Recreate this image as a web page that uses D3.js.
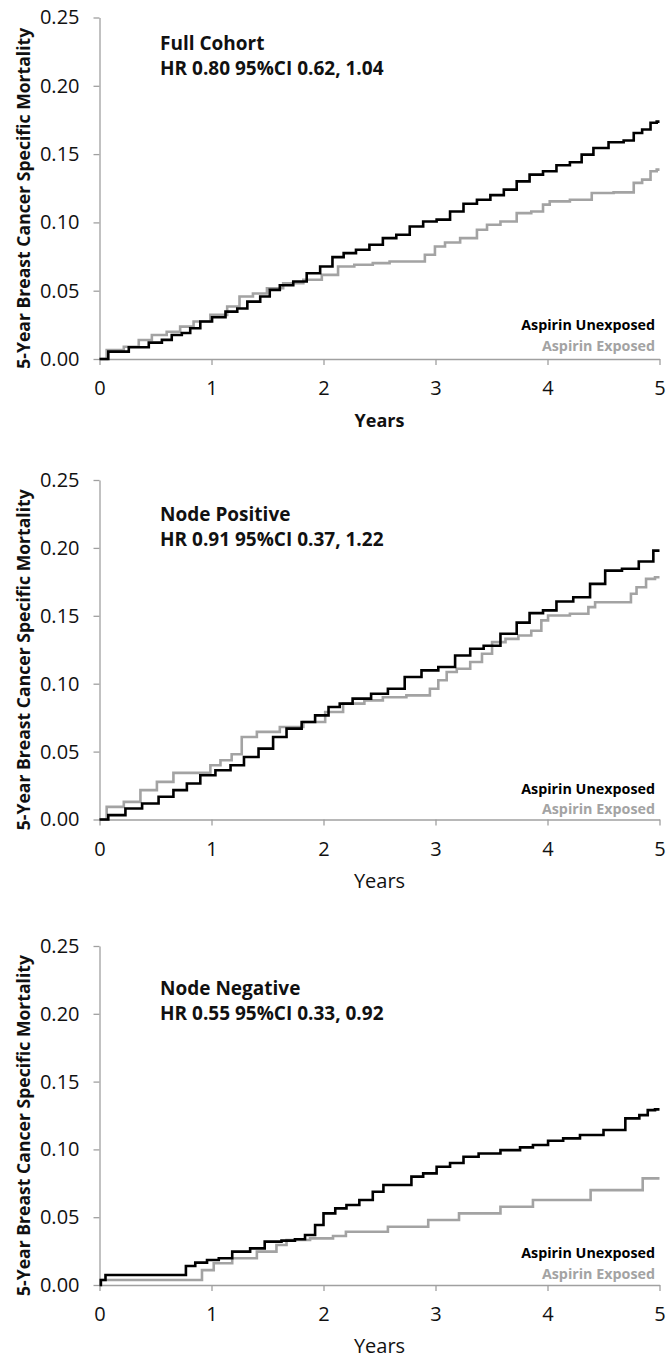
<!DOCTYPE html>
<html>
<head>
<meta charset="utf-8">
<script src="https://cdn.jsdelivr.net/npm/d3@7"></script>
<style>
  html, body { margin: 0; padding: 0; background: #fff; }
  svg { display: block; font-family: "Open Sans", "Noto Sans", sans-serif; }
</style>
</head>
<body>
<div id="chart"></div>
<script>
// ---------------- data ----------------
var xTicks = [0, 1, 2, 3, 4, 5];
var yTicks = [0, 0.05, 0.10, 0.15, 0.20, 0.25];
var seriesNames = ['Aspirin Unexposed', 'Aspirin Exposed'];
var panelTitles = ['Full Cohort', 'Node Positive', 'Node Negative'];
var panelHR = ['HR 0.80 95%CI 0.62, 1.04', 'HR 0.91 95%CI 0.37, 1.22', 'HR 0.55 95%CI 0.33, 0.92'];

// [years, cumulative mortality]
var fullUnexposed = [[0,0],[0.157,0.0054],[0.366,0.0086],[0.514,0.012],[0.60,0.014],[0.69,0.0176],[0.78,0.019],
  [0.84,0.0225],[0.96,0.0274],[1.05,0.0306],[1.20,0.0347],[1.26,0.037],[1.38,0.042],[1.49,0.0457],[1.55,0.0506],
  [1.67,0.054],[1.79,0.0567],[1.91,0.0628],[2.03,0.0677],[2.13,0.0746],[2.23,0.0775],[2.35,0.080],[2.47,0.0836],
  [2.59,0.0885],[2.71,0.091],[2.83,0.097],[2.95,0.1007],[3.07,0.102],[3.19,0.108],[3.31,0.1137],[3.43,0.1166],
  [3.55,0.120],[3.67,0.124],[3.78,0.130],[3.90,0.135],[4.02,0.1374],[4.14,0.1418],[4.26,0.144],[4.35,0.1496],
  [4.47,0.1545],[4.62,0.1587],[4.74,0.160],[4.80,0.1655],[4.89,0.168],[4.95,0.1729],[5.0,0.1738]];
var fullExposed = [[0,0],[0.128,0.0066],[0.306,0.009],[0.395,0.0139],[0.54,0.0176],[0.66,0.020],[0.78,0.0237],
  [0.90,0.0274],[1.08,0.0323],[1.20,0.0384],[1.30,0.0457],[1.44,0.048],[1.55,0.0518],[1.73,0.0555],[1.91,0.058],
  [2.06,0.0616],[2.20,0.0677],[2.35,0.069],[2.53,0.0702],[2.65,0.0714],[2.86,0.0714],[2.95,0.0763],[3.04,0.0824],
  [3.13,0.0853],[3.31,0.0885],[3.43,0.0946],[3.49,0.0983],[3.67,0.1007],[3.78,0.1068],[3.93,0.108],[3.99,0.113],
  [4.05,0.1154],[4.35,0.1166],[4.44,0.1215],[4.74,0.122],[4.80,0.1289],[4.89,0.1313],[4.95,0.1374],[5.0,0.1386]];

var posUnexposed = [[0,0],[0.157,0.0032],[0.306,0.0081],[0.455,0.0118],[0.60,0.0167],[0.72,0.0216],[0.84,0.0265],
  [0.96,0.0326],[1.11,0.0363],[1.23,0.040],[1.35,0.046],[1.49,0.0522],[1.61,0.0608],[1.73,0.0669],[1.88,0.0718],
  [1.97,0.0767],[2.12,0.0828],[2.17,0.0853],[2.35,0.089],[2.50,0.0926],[2.65,0.0963],[2.80,0.1049],[2.95,0.1098],
  [3.10,0.1123],[3.25,0.1208],[3.37,0.1257],[3.49,0.128],[3.67,0.1368],[3.78,0.145],[3.90,0.152],[4.02,0.154],
  [4.14,0.1605],[4.32,0.1637],[4.44,0.1735],[4.59,0.1833],[4.74,0.1846],[4.89,0.190],[5.0,0.198]];
var posExposed = [[0,0],[0.128,0.0093],[0.306,0.013],[0.425,0.0216],[0.60,0.0277],[0.72,0.0343],[0.96,0.0343],
  [1.02,0.040],[1.14,0.0436],[1.22,0.048],[1.32,0.0608],[1.49,0.0645],[1.73,0.0681],[1.91,0.0718],[2.12,0.0792],[2.23,0.0853],
  [2.50,0.0877],[2.56,0.090],[2.92,0.0914],[2.98,0.0963],[3.07,0.1025],[3.13,0.1086],[3.25,0.111],[3.37,0.116],
  [3.46,0.122],[3.55,0.1306],[3.70,0.133],[3.78,0.1355],[3.93,0.139],[3.96,0.1466],[4.05,0.1502],[4.35,0.1515],
  [4.38,0.1564],[4.47,0.160],[4.74,0.160],[4.75,0.1662],[4.84,0.171],[4.92,0.1772],[5.0,0.1784]];

var negUnexposed = [[0,0],[0.024,0.0037],[0.083,0.0074],[0.733,0.0074],[0.81,0.014],[0.90,0.0165],[1.02,0.0184],
  [1.11,0.0197],[1.26,0.0246],[1.43,0.027],[1.52,0.032],[1.73,0.0327],[1.76,0.0337],[1.91,0.0369],[1.94,0.0442],
  [2.06,0.0528],[2.15,0.0565],[2.26,0.059],[2.38,0.0627],[2.50,0.0688],[2.57,0.0737],[2.74,0.0737],[2.83,0.0799],
  [2.95,0.0823],[3.07,0.0872],[3.19,0.090],[3.31,0.0946],[3.46,0.097],[3.70,0.0995],[3.81,0.1015],[3.93,0.1032],
  [4.08,0.1064],[4.20,0.1081],[4.38,0.1106],[4.62,0.1143],[4.77,0.1229],[4.87,0.1253],[4.92,0.129],[5.0,0.1295]];
var negExposed = [[0,0],[0.024,0.0037],[0.87,0.0037],[0.96,0.011],[1.08,0.016],[1.29,0.0197],[1.52,0.0246],
  [1.64,0.0295],[1.70,0.0332],[2.06,0.0344],[2.11,0.0361],[2.29,0.0393],[2.86,0.043],[3.01,0.0479],[3.41,0.0528],
  [3.75,0.0577],[3.99,0.0627],[4.78,0.070],[4.92,0.0786],[5.0,0.0786]];

// ---------------- layout ----------------
var W = 668, H = 1359;
var x0 = 99.5, x1 = 659.5;
var panels = [
  {top: 17.5,  bottom: 359,    title: panelTitles[0], hr: panelHR[0], series: [fullUnexposed, fullExposed], titleY: 50,  legendDy: [-29, -8], boldYears: true},
  {top: 480,   bottom: 819.5,  title: panelTitles[1], hr: panelHR[1], series: [posUnexposed, posExposed],   titleY: 521, legendDy: [-26, -6], boldYears: false},
  {top: 946,   bottom: 1285,   title: panelTitles[2], hr: panelHR[2], series: [negUnexposed, negExposed],   titleY: 995, legendDy: [-27, -6], boldYears: false}
];
var colors = ['#000000', '#a3a3a3'];
var axisColor = '#a0a0a0';
var font = '"Open Sans", sans-serif';

var svg = d3.select('#chart').append('svg').attr('width', W).attr('height', H);

panels.forEach(function(p){
  var x = d3.scaleLinear().domain([0, 5]).range([x0, x1]);
  var y = d3.scaleLinear().domain([0, 0.25]).range([p.bottom, p.top]);
  var g = svg.append('g');

  // y axis
  var ya = g.append('g').attr('transform', 'translate(' + x0 + ',0)')
    .call(d3.axisLeft(y).tickValues(yTicks).tickFormat(d3.format('.2f')).tickSize(6).tickSizeOuter(0).tickPadding(14));
  ya.attr('font-size', null).attr('font-family', null);
  ya.select('.domain').attr('stroke', axisColor).attr('stroke-width', 1.3);
  ya.selectAll('.tick line').attr('stroke', axisColor).attr('stroke-width', 1.3);
  ya.selectAll('.tick text').attr('fill', '#111').style('font-size', '20px').style('font-family', font);

  // x axis
  var xa = g.append('g').attr('transform', 'translate(0,' + p.bottom + ')')
    .call(d3.axisBottom(x).tickValues(xTicks).tickFormat(d3.format('d')).tickSize(6).tickSizeOuter(0).tickPadding(14));
  xa.attr('font-size', null).attr('font-family', null);
  xa.select('.domain').attr('stroke', axisColor).attr('stroke-width', 1.3);
  xa.selectAll('.tick line').attr('stroke', axisColor).attr('stroke-width', 1.3);
  xa.selectAll('.tick text').attr('fill', '#111').attr('dy', null).attr('y', 36)
    .style('font-size', '20px').style('font-family', font);

  // curves
  var line = d3.line().x(function(d){ return x(d[0]); }).y(function(d){ return y(d[1]); }).curve(d3.curveStep);
  // exposed first, unexposed on top
  [1, 0].forEach(function(k){
    g.append('path').datum(p.series[k])
      .attr('d', line).attr('fill', 'none').attr('stroke', colors[k])
      .attr('stroke-width', 2.6);
  });

  // y title
  var ym = (p.top + p.bottom) / 2 + 10;
  g.append('text').attr('transform', 'translate(30,' + ym + ') rotate(-90)')
    .attr('text-anchor', 'middle').attr('font-weight', 'bold').attr('fill', '#111')
    .style('font-size', '17.6px').text('5-Year Breast Cancer Specific Mortality');

  // x title
  g.append('text').attr('x', (x0 + x1) / 2).attr('y', p.bottom + 68)
    .attr('text-anchor', 'middle').attr('font-weight', p.boldYears ? 'bold' : 'normal').attr('fill', '#111')
    .style('font-size', p.boldYears ? '18px' : '20px').text('Years');

  // panel title
  g.append('text').attr('x', 160).attr('y', p.titleY).attr('font-weight', 'bold').attr('fill', '#111')
    .style('font-size', '19px').text(p.title);
  g.append('text').attr('x', 160).attr('y', p.titleY + 25).attr('font-weight', 'bold').attr('fill', '#111')
    .style('font-size', '19px').text(p.hr);

  // legend
  seriesNames.forEach(function(name, k){
    g.append('text').attr('x', 655).attr('y', p.bottom + p.legendDy[k])
      .attr('text-anchor', 'end').attr('font-weight', 'bold').attr('fill', colors[k])
      .style('font-size', '14.3px').text(name);
  });
});
</script>
</body>
</html>
